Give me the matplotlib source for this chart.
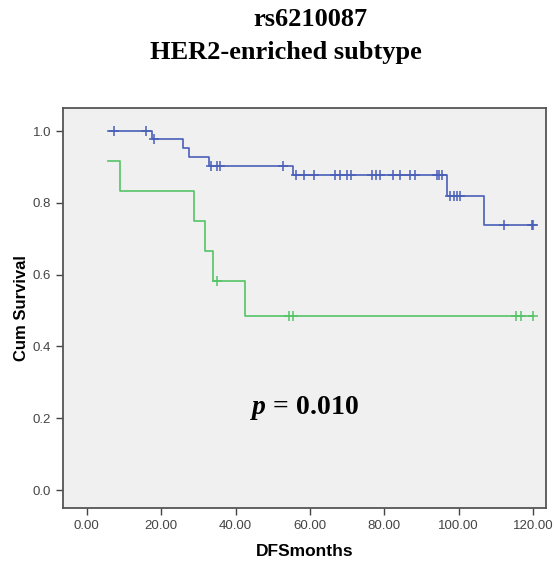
import numpy as np
import matplotlib
matplotlib.use("Agg")
import matplotlib.pyplot as plt

# Kaplan-Meier curves
blue_times = [5.7, 17.5, 25.8, 27.4, 32.9, 55.5, 97.0, 106.9, 120.0]
blue_surv = [1.0, 0.977, 0.953, 0.928, 0.903, 0.877, 0.820, 0.737, 0.737]
blue_censor = [7.2, 16.0, 18.1, 33.3, 34.9, 35.8, 52.7, 56.2, 58.4, 61.1,
               66.8, 68.0, 69.9, 71.0, 76.6, 77.8, 78.8, 82.3, 84.2, 86.9,
               88.2, 94.1, 94.8, 95.4, 97.8, 98.7, 99.6, 100.5, 112.3,
               119.6, 120.0]

green_times = [5.8, 8.9, 28.7, 31.9, 34.0, 42.6, 120.0]
green_surv = [0.917, 0.833, 0.750, 0.667, 0.583, 0.486, 0.486]
green_censor = [35.1, 54.5, 55.5, 115.4, 116.9, 120.0]

x_ticks = [0, 20, 40, 60, 80, 100, 120]
y_ticks = [0.0, 0.2, 0.4, 0.6, 0.8, 1.0]

blue = "#4a5fb8"
green = "#55c466"

plt.rcParams["mathtext.fontset"] = "custom"
plt.rcParams["mathtext.it"] = "Liberation Serif:italic:bold"


def surv_at(times, surv, t):
    idx = np.searchsorted(times, t, side="right") - 1
    return np.array(surv)[np.clip(idx, 0, len(surv) - 1)]


fig = plt.figure(figsize=(5.54, 5.66), dpi=100)
ax = fig.add_axes([0.1137, 0.1025, 0.8719, 0.7065])
ax.set_facecolor("#f0f0f0")

for times, surv, cens, col in [(blue_times, blue_surv, blue_censor, blue),
                               (green_times, green_surv, green_censor, green)]:
    ax.step(times, surv, where="post", color=col, lw=1.2)
    ax.plot(cens, surv_at(times, surv, cens), ls="none", marker="+",
            ms=7, mew=1.1, color=col)

ax.set_xlim(-6.4, 123.5)
ax.set_ylim(-0.05, 1.064)
ax.set_xticks(x_ticks)
ax.set_xticklabels(["%.2f" % v for v in x_ticks])
ax.set_yticks(y_ticks)
ax.set_yticklabels(["%.1f" % v for v in y_ticks])
ax.tick_params(direction="out", length=5, width=1, colors="#444444",
               labelsize=9.5, labelcolor="#444444",
               labelfontfamily="Liberation Sans")
for s in ax.spines.values():
    s.set_color("#555555")
    s.set_linewidth(1.3)

ax.set_xlabel("DFSmonths", fontsize=12.5, fontweight="bold",
              family="Liberation Sans", labelpad=9)
ax.set_ylabel("Cum Survival", fontsize=12, fontweight="bold",
              family="Liberation Sans", labelpad=3)

ax.text(0.5, 0.25, r"$p$ = 0.010", transform=ax.transAxes,
        ha="center", va="center", fontsize=20, fontweight="bold",
        family="Liberation Serif")

fig.text(0.56, 0.965, "rs6210087", ha="center", va="center", fontsize=19,
         fontweight="bold", family="Liberation Serif")
fig.text(0.516, 0.908, "HER2-enriched subtype", ha="center", va="center",
         fontsize=19, fontweight="bold", family="Liberation Serif")

fig.savefig("out.png", dpi=100)
